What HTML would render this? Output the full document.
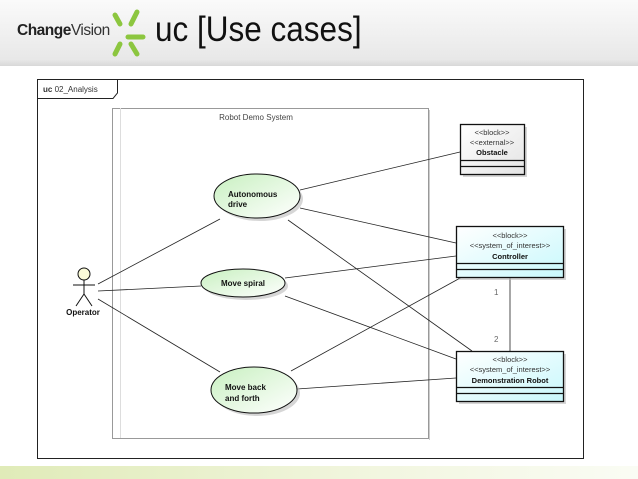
<!DOCTYPE html>
<html><head><style>
body{margin:0;width:638px;height:479px;overflow:hidden;background:#fff;font-family:"Liberation Sans",sans-serif;position:relative}
.hdr{position:absolute;left:0;top:0;width:638px;height:66px;background:linear-gradient(180deg,#fafafa,#e8e8e8 90%,#d8d8d8)}
.logo{position:absolute;left:17px;top:22px;font-size:15.5px;font-weight:bold;color:#222;letter-spacing:-0.5px}
.logo span{font-weight:normal;color:#333}
.title{position:absolute;left:155px;top:10px;font-size:35px;color:#111;transform:scaleX(0.9);transform-origin:0 0;white-space:nowrap}
.foot{position:absolute;left:0;top:466px;width:638px;height:13px;background:linear-gradient(90deg,#e0ebb8,#f2f6e0 60%,#fafcf4)}
</style></head><body>
<div class="hdr"></div>
<div class="logo">Change<span>Vision</span></div>
<svg style="position:absolute;left:0;top:0" width="638" height="479">
<g stroke="#8cc63f" stroke-width="5" stroke-linecap="round">
<line x1="115" y1="15" x2="120" y2="24"/><line x1="137" y1="12" x2="131" y2="24"/>
<line x1="120" y1="44" x2="115" y2="54"/><line x1="131" y1="44" x2="137" y2="54"/>
<line x1="128" y1="37" x2="143" y2="37"/>
</g>
</svg>
<div class="title">uc [Use cases]</div>
<div class="foot"></div>
<svg style="position:absolute;left:0;top:0" width="638" height="479" font-family="Liberation Sans,sans-serif">
<defs>
<linearGradient id="g" x1="0" y1="0" x2="1" y2="1"><stop offset="0" stop-color="#c8f0c0"/><stop offset="1" stop-color="#ffffff"/></linearGradient>
<linearGradient id="c" x1="0" y1="0" x2="1" y2="1"><stop offset="0" stop-color="#ffffff"/><stop offset="1" stop-color="#c8f8fc"/></linearGradient>
<linearGradient id="o" x1="0" y1="0" x2="1" y2="1"><stop offset="0" stop-color="#ffffff"/><stop offset="1" stop-color="#e4e4e4"/></linearGradient>
</defs>
<rect x="37.5" y="79.5" width="546" height="379" fill="#fff" stroke="#222"/>
<path d="M37.5 98.5 H113 L117.5 93 V79.5" fill="none" stroke="#222"/>
<text x="43" y="92" font-size="8" fill="#333"><tspan font-weight="bold">uc</tspan> 02_Analysis</text>
<rect x="112.5" y="108.5" width="316" height="330" fill="none" stroke="#999"/>
<line x1="120.5" y1="108" x2="120.5" y2="438" stroke="#ddd"/>
<line x1="429.5" y1="110" x2="429.5" y2="440" stroke="#ccc"/>
<text x="256" y="120" font-size="8" fill="#444" text-anchor="middle">Robot Demo System</text>
<g stroke="#222" stroke-width="0.8">
<line x1="98" y1="284" x2="220" y2="219"/>
<line x1="98" y1="291" x2="201" y2="286"/>
<line x1="98" y1="299" x2="220" y2="372"/>
<line x1="300" y1="190" x2="460" y2="152"/>
<line x1="300" y1="208" x2="456" y2="243"/>
<line x1="288" y1="220" x2="472" y2="351"/>
<line x1="285" y1="278" x2="456" y2="256"/>
<line x1="285" y1="296" x2="456" y2="359"/>
<line x1="291" y1="371" x2="462" y2="277"/>
<line x1="297" y1="389" x2="456" y2="378"/>
<line x1="510" y1="277" x2="510" y2="351"/>
</g>
<text x="494" y="295" font-size="8" fill="#666">1</text>
<text x="494" y="342" font-size="8" fill="#666">2</text>
<g fill="#bbb" opacity="0.6"><ellipse cx="260" cy="199" rx="43" ry="22"/><ellipse cx="246" cy="286" rx="42" ry="14"/><ellipse cx="257" cy="393" rx="43" ry="23"/>
<rect x="463" y="127" width="64" height="50"/><rect x="459" y="229" width="107" height="51"/><rect x="459" y="354" width="107" height="50"/></g>
<g stroke="#111" fill="url(#g)">
<ellipse cx="257" cy="196" rx="43" ry="22"/><ellipse cx="243" cy="283" rx="42" ry="14"/><ellipse cx="254" cy="390" rx="43" ry="23"/>
</g>
<g font-size="8" font-weight="bold" fill="#111">
<text x="228" y="197">Autonomous</text><text x="228" y="207">drive</text>
<text x="221" y="286">Move spiral</text>
<text x="225" y="390">Move back</text><text x="225" y="401">and forth</text>
</g>
<g stroke="#111" stroke-width="1.3">
<rect x="460.5" y="124.5" width="64" height="50" fill="url(#o)"/>
<line x1="460" y1="160.5" x2="525" y2="160.5"/><line x1="460" y1="166.5" x2="525" y2="166.5"/>
<rect x="456.5" y="226.5" width="107" height="51" fill="url(#c)"/>
<line x1="456" y1="263.5" x2="564" y2="263.5"/><line x1="456" y1="269.5" x2="564" y2="269.5"/>
<rect x="456.5" y="351.5" width="107" height="50" fill="url(#c)"/>
<line x1="456" y1="387.5" x2="564" y2="387.5"/><line x1="456" y1="393.5" x2="564" y2="393.5"/>
</g>
<g font-size="7.5" fill="#333" text-anchor="middle">
<text x="492" y="135">&lt;&lt;block&gt;&gt;</text><text x="492" y="145">&lt;&lt;external&gt;&gt;</text>
<text x="492" y="155" font-weight="bold" fill="#111">Obstacle</text>
<text x="510" y="238">&lt;&lt;block&gt;&gt;</text><text x="510" y="248">&lt;&lt;system_of_interest&gt;&gt;</text>
<text x="510" y="259" font-weight="bold" fill="#111">Controller</text>
<text x="510" y="362">&lt;&lt;block&gt;&gt;</text><text x="510" y="372">&lt;&lt;system_of_interest&gt;&gt;</text>
<text x="510" y="383" font-weight="bold" fill="#111">Demonstration Robot</text>
</g>
<g stroke="#111" stroke-width="1" fill="none">
<circle cx="84" cy="274" r="6" fill="#fafad8"/>
<line x1="84" y1="280" x2="84" y2="294"/><line x1="73" y1="285" x2="95" y2="285"/>
<line x1="84" y1="294" x2="76" y2="306"/><line x1="84" y1="294" x2="92" y2="306"/>
</g>
<text x="83" y="315" font-size="8" font-weight="bold" text-anchor="middle" fill="#111">Operator</text>
</svg>
</body></html>
